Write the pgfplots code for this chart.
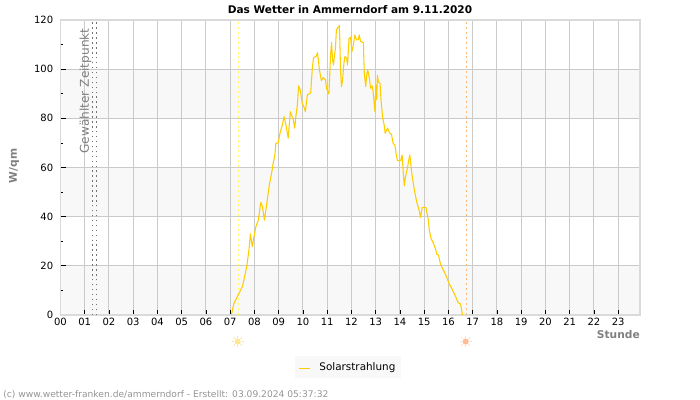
\documentclass[border=0pt]{standalone}
\usepackage{fontspec}
\setmainfont{DejaVu Sans}
\usepackage{pgfplots}
\pgfplotsset{compat=1.18}
\definecolor{band}{HTML}{F8F8F8}
\definecolor{gridc}{HTML}{CACACA}
\definecolor{frame}{HTML}{DADADA}
\definecolor{solar}{HTML}{FFCC00}
\definecolor{labelgrey}{HTML}{808080}
% small sun symbol: filled disc with eight short rays
\pgfdeclareplotmark{sunglyph}{%
  \pgfpathcircle{\pgfpointorigin}{2.3pt}\pgfusepathqfill
  \pgfsetlinewidth{0.6pt}%
  \foreach \a in {0,45,...,315}{%
    \pgfpathmoveto{\pgfpointpolar{\a}{2.9pt}}%
    \pgfpathlineto{\pgfpointpolar{\a}{4.4pt}}%
    \pgfusepathqstroke}%
}
\begin{document}
\begin{tikzpicture}
\path (0pt,0pt) rectangle (525pt,300pt);
\begin{axis}[
  at={(45.375pt,63.75pt)}, anchor=south west,
  scale only axis, width=434.6pt, height=221.25pt,
  xmin=0, xmax=23.9, ymin=0, ymax=120,
  clip=false, set layers,
  axis line style={draw=frame, line width=0.8pt},
  xtick={0,...,23},
  xticklabels={00,01,02,03,04,05,06,07,08,09,10,11,12,13,14,15,16,17,18,19,20,21,22,23},
  ytick={0,20,...,120},
  minor ytick={10,30,...,110},
  xtick pos=bottom, ytick pos=left,
  tick align=inside,
  major tick length=3.75pt, minor tick length=2.2pt,
  tick style={draw=black, line width=0.6pt},
  grid=major,
  major grid style={draw=gridc, line width=0.75pt},
  ticklabel style={font=\fontsize{7.5}{9}\selectfont, text=black},
  xticklabel style={yshift=1.5pt},
  yticklabel style={xshift=-2pt},
  /pgf/number format/assume math mode=true,
  legend style={at={(0.4047,-0.139)}, anchor=north west, draw=none, fill=band,
    font=\fontsize{7.8}{9.5}\selectfont, inner xsep=2pt, inner ysep=2.4pt,
    legend cell align=left},
  % the empty stretch keeps the text clear of the short sample line
  legend image code/.code={\draw[#1,line width=1.3pt] (0pt,-1pt) -- (8.5pt,-1pt);
    \path[draw=none] (0pt,0pt) -- (13.5pt,0pt);},
]
% alternating background bands
\addplot[on layer=axis background, forget plot, fill=band, draw=none] coordinates {(0,0) (23.9,0) (23.9,20) (0,20) (0,0)};
\addplot[on layer=axis background, forget plot, fill=band, draw=none] coordinates {(0,40) (23.9,40) (23.9,60) (0,60) (0,40)};
\addplot[on layer=axis background, forget plot, fill=band, draw=none] coordinates {(0,80) (23.9,80) (23.9,100) (0,100) (0,80)};
% sunrise and sunset
\addplot[forget plot, draw=yellow!60!white, line width=0.75pt, dash pattern=on 1.5pt off 2.2pt] coordinates {(7.33,0) (7.33,120)};
\addplot[forget plot, draw=orange!55!white, line width=0.75pt, dash pattern=on 1.5pt off 2.2pt] coordinates {(16.73,0) (16.73,120)};
\addplot[forget plot, only marks, mark=sunglyph, mark options={draw=yellow!35!orange!30!white, fill=yellow!60!orange!40!white}] coordinates {(7.31,-10.8)};
\addplot[forget plot, only marks, mark=sunglyph, mark options={draw=red!20!orange!22!white, fill=red!25!orange!42!white}] coordinates {(16.71,-10.8)};
% selected point in time
\addplot[forget plot, draw=black!55, line width=0.75pt, dash pattern=on 1.1pt off 2.6pt] coordinates {(1.30,0) (1.30,120)};
\addplot[forget plot, draw=black!55, line width=0.75pt, dash pattern=on 1.1pt off 2.6pt] coordinates {(1.476,0) (1.476,120)};
% solar radiation
\addplot[draw=solar, line width=0.8pt, line join=round] coordinates {
(7.05,0)(7.15,4.75)(7.33,8.15)(7.51,11.8)(7.61,16.3)(7.69,20.3)(7.78,27.1)(7.83,33)
(7.91,27.8)(7.98,31.9)(8.06,36)(8.16,38.6)(8.26,45.8)(8.33,44.1)(8.41,38.6)(8.51,45.4)
(8.60,52.2)(8.73,59)(8.77,61.7)(8.84,64.8)(8.88,69.8)(8.98,70.1)(9.05,73.9)(9.15,77.3)
(9.22,80.7)(9.30,77.3)(9.37,73.2)(9.39,71.9)(9.48,82.7)(9.55,80.7)(9.59,80)(9.66,76)
(9.71,81)(9.77,85.4)(9.82,93.2)(9.89,91.5)(9.97,86.1)(10.06,84.1)(10.10,82.7)(10.18,89.5)
(10.32,90.4)(10.39,101)(10.44,104.8)(10.54,105.1)(10.60,106.7)(10.68,99.7)(10.76,95.3)
(10.84,96.6)(10.93,95.6)(10.97,92.2)(11.07,89.9)(11.14,105.8)(11.18,110.9)(11.22,103.7)
(11.26,101.7)(11.30,105.8)(11.34,108.5)(11.38,116)(11.45,117)(11.50,117.7)(11.52,111.6)
(11.55,99.7)(11.59,92.9)(11.63,95.3)(11.69,102.4)(11.73,105.1)(11.80,104.4)(11.84,101.7)
(11.90,112.5)(11.96,113)(12.02,107.1)(12.08,109.8)(12.14,113.9)(12.21,111.9)(12.28,111.9)
(12.32,113.9)(12.38,111.2)(12.49,110.8)(12.53,98.3)(12.59,92.9)(12.63,97.6)(12.67,99.7)
(12.74,96.3)(12.79,92.2)(12.86,93.2)(12.90,90.2)(12.97,82.7)(13.01,93.6)(13.04,87.5)
(13.07,97.6)(13.11,94.9)(13.18,94.2)(13.22,87.5)(13.29,80)(13.35,77.3)(13.39,73.9)
(13.49,76)(13.58,73.9)(13.65,73.6)(13.72,69.8)(13.79,69.2)(13.86,64.4)(13.90,62.8)
(14.03,62.8)(14.09,65.1)(14.14,57.6)(14.18,52.6)(14.23,56.3)(14.32,60.3)(14.36,63)
(14.41,65.1)(14.48,58.3)(14.55,53.6)(14.62,49.5)(14.69,46.1)(14.79,42.7)(14.85,39.7)
(14.92,43.8)(15.07,43.8)(15.17,38.7)(15.21,34.6)(15.28,31.2)(15.38,29.2)(15.48,26.5)
(15.52,24.7)(15.59,24.4)(15.68,20.4)(15.79,18.3)(15.92,15.6)(16.02,12.9)(16.13,10.9)
(16.27,8.1)(16.40,5)(16.50,4.5)(16.58,0)
};
\addlegendentry{Solarstrahlung\hspace{8.5pt}}
\end{axis}
\begin{scope}[x=0.75pt,y=-0.75pt,yshift=300pt]
\node[anchor=center, font=\bfseries\fontsize{7.9}{9.5}\selectfont] at (350,10) {Das Wetter in Ammerndorf am 9.11.2020};
\node[rotate=90, font=\bfseries\fontsize{8}{9.5}\selectfont, text=labelgrey] at (14,166) {W/qm};
\node[anchor=east, inner sep=0pt, font=\bfseries\fontsize{8}{9.5}\selectfont, text=labelgrey] at (640,334.5) {Stunde};
\node[rotate=90, font=\fontsize{9.1}{11}\selectfont, text=black!50] at (85.5,91) {Gewählter Zeitpunkt};
\node[anchor=west, inner sep=0pt, font=\fontsize{6.85}{8}\selectfont, text=black!42] at (3,394.5) {(c) www.wetter-franken.de/ammerndorf - Erstellt: 03.09.2024 05:37:32};
\end{scope}
\end{tikzpicture}
\end{document}
